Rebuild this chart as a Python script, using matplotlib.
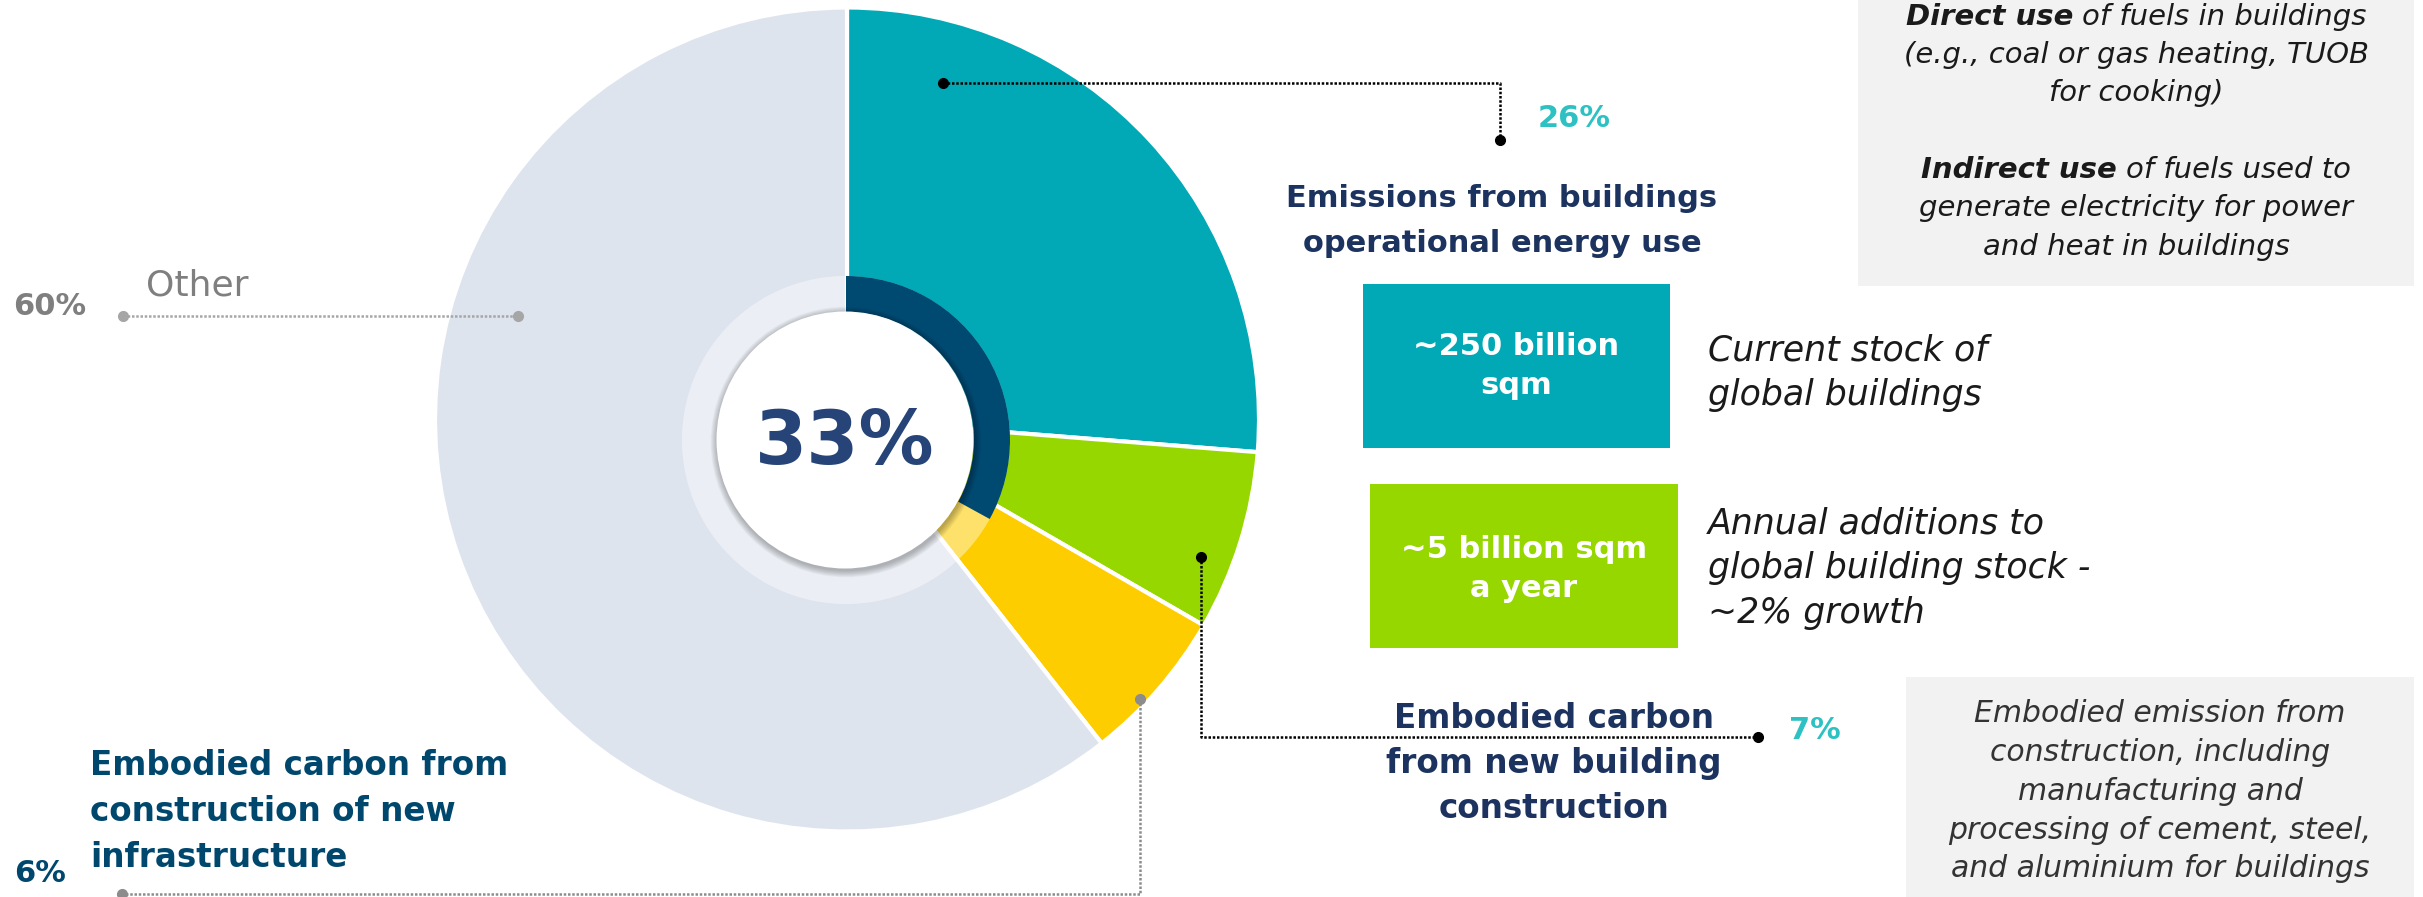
import matplotlib
matplotlib.use('Agg')
import matplotlib.pyplot as plt
from matplotlib.patches import Rectangle, Circle

# shares of global emissions (%), clockwise from 12 o'clock
segments = ['Emissions from buildings operational energy use',
            'Embodied carbon from new building construction',
            'Embodied carbon from construction of new infrastructure',
            'Other']
shares = [26, 7, 6, 60]
buildings_share = shares[0] + shares[1]   # 33%

stat_values = ['~250 billion\nsqm', '~5 billion sqm\na year']
stat_notes = [['Current stock of', 'global buildings'],
              ['Annual additions to', 'global building stock -', '~2% growth']]

teal = '#00a9b5'
green = '#96d700'
yellow = '#fecd00'
other = '#dee4ee'
navy = '#004a72'
title_col = '#1c3360'
infra_col = '#00476e'
pct_col = '#2ec1c3'
grey = '#7f7f7f'

W, H = 2423, 897
def Y(y):
    # image rows -> data y
    return H - y

fig = plt.figure(figsize=(W / 100, H / 100), dpi=100)
ax = fig.add_axes([0, 0, 1, 1])

# main pie
ax.pie(shares, colors=[teal, green, yellow, other], startangle=90,
       counterclock=False, radius=412, center=(847, Y(419.5)),
       wedgeprops=dict(edgecolor='white', linewidth=3))

# inner ring: translucent white + navy arc for buildings share
ring_c = (846, Y(440))
ax.pie([1], colors=['white'], radius=164, center=ring_c,
       wedgeprops=dict(width=36, alpha=0.42, linewidth=0))
ax.pie([buildings_share, 100 - buildings_share], colors=[navy, 'none'],
       startangle=90, counterclock=False, radius=164, center=ring_c,
       wedgeprops=dict(width=36, linewidth=0))

# white disc with soft shadow
for i in range(8):
    ax.add_patch(Circle((846, Y(442)), 129 + i * 0.9, color='black',
                        alpha=0.035, lw=0, zorder=3))
ax.add_patch(Circle((845, Y(440)), 128.5, color='white', lw=0, zorder=4))
ax.text(845, Y(443), f'{buildings_share}%', fontsize=54, weight='bold',
        color='#264478', ha='center', va='center', zorder=5)

ax.set_xlim(0, W)
ax.set_ylim(0, H)
ax.set_aspect('auto')
ax.axis('off')

# side boxes
ax.add_patch(Rectangle((1858, Y(286)), 556, 286, color='#f2f2f2', lw=0))
ax.add_patch(Rectangle((1906, Y(897)), 508, 220, color='#f2f2f2', lw=0))
ax.add_patch(Rectangle((1363, Y(448)), 307, 164, color=teal, lw=0))
ax.add_patch(Rectangle((1370, Y(648)), 308, 164, color=green, lw=0))

ax.text(1516, Y(366), stat_values[0], fontsize=22, weight='bold', color='white',
        ha='center', va='center', linespacing=1.45)
ax.text(1524, Y(569), stat_values[1], fontsize=22, weight='bold', color='white',
        ha='center', va='center', linespacing=1.45)

for line, y in zip(stat_notes[0], [350, 395]):
    ax.text(1708, Y(y), line, fontsize=25, style='italic', color='#1a1a1a',
            ha='left', va='center')
for line, y in zip(stat_notes[1], [523, 568, 613]):
    ax.text(1708, Y(y), line, fontsize=25, style='italic', color='#1a1a1a',
            ha='left', va='center')

# top grey box text with bold-italic lead words
renderer = fig.canvas.get_renderer()
def mixed_line(xc, y, parts, size=21):
    texts = []
    for s, w in parts:
        texts.append(ax.text(0, Y(y), s, fontsize=size, style='italic', weight=w,
                             color='#1a1a1a', ha='left', va='center'))
    gap = size * 0.3 * 100 / 72
    widths = [t.get_window_extent(renderer).width for t in texts]
    x = xc - (sum(widths) + gap * (len(texts) - 1)) / 2
    for t, w in zip(texts, widths):
        t.set_x(x)
        x += w + gap

mixed_line(2136, 17, [('Direct use', 'bold'), ('of fuels in buildings', 'normal')])
mixed_line(2136, 55, [('(e.g., coal or gas heating, TUOB', 'normal')])
mixed_line(2136, 93, [('for cooking)', 'normal')])
mixed_line(2136, 170, [('Indirect use', 'bold'), ('of fuels used to', 'normal')])
mixed_line(2136, 208, [('generate electricity for power', 'normal')])
mixed_line(2136, 247, [('and heat in buildings', 'normal')])

bottom_note = ['Embodied emission from', 'construction, including',
               'manufacturing and', 'processing of cement, steel,',
               'and aluminium for buildings']
for line, y in zip(bottom_note, [713, 752, 791, 830, 868]):
    ax.text(2160, Y(y), line, fontsize=21.5, style='italic', color='#333333',
            ha='center', va='center')

# segment labels
ax.text(1502, Y(198), 'Emissions from buildings', fontsize=22, weight='bold',
        color=title_col, ha='center', va='center')
ax.text(1502, Y(243), 'operational energy use', fontsize=22, weight='bold',
        color=title_col, ha='center', va='center')
ax.text(1574, Y(118), f'{shares[0]}%', fontsize=22, weight='bold', color=pct_col,
        ha='center', va='center')

for line, y in zip(['Embodied carbon', 'from new building', 'construction'],
                   [718, 763, 808]):
    ax.text(1554, Y(y), line, fontsize=23.5, weight='bold', color=title_col,
            ha='center', va='center')
ax.text(1815, Y(730), f'{shares[1]}%', fontsize=22, weight='bold', color=pct_col,
        ha='center', va='center')

for line, y in zip(['Embodied carbon from', 'construction of new', 'infrastructure'],
                   [765, 811, 857]):
    ax.text(90, Y(y), line, fontsize=23.5, weight='bold', color=infra_col,
            ha='left', va='center')
ax.text(40, Y(873), f'{shares[2]}%', fontsize=22, weight='bold', color=infra_col,
        ha='center', va='center')

ax.text(146, Y(285), segments[3], fontsize=26, color=grey, ha='left', va='center')
ax.text(50, Y(306), f'{shares[3]}%', fontsize=22, weight='bold', color=grey,
        ha='center', va='center')

# leader lines
def leader(xs, ys, col, ends):
    ax.plot(xs, [Y(v) for v in ys], color=col, lw=1.8, dashes=(1, 0.7), zorder=6)
    for i in ends:
        ax.plot(xs[i], Y(ys[i]), 'o', color=col, ms=7, zorder=6)

leader([943, 1500, 1500], [83, 83, 140], 'black', [0, 2])
leader([1201, 1201, 1758], [557, 737, 737], 'black', [0, 2])
leader([123, 518], [316, 316], '#a6a6a6', [0, 1])
leader([1140, 1140, 122], [699, 894, 894], '#8c8c8c', [0, 2])

fig.savefig('out.png', dpi=100)
